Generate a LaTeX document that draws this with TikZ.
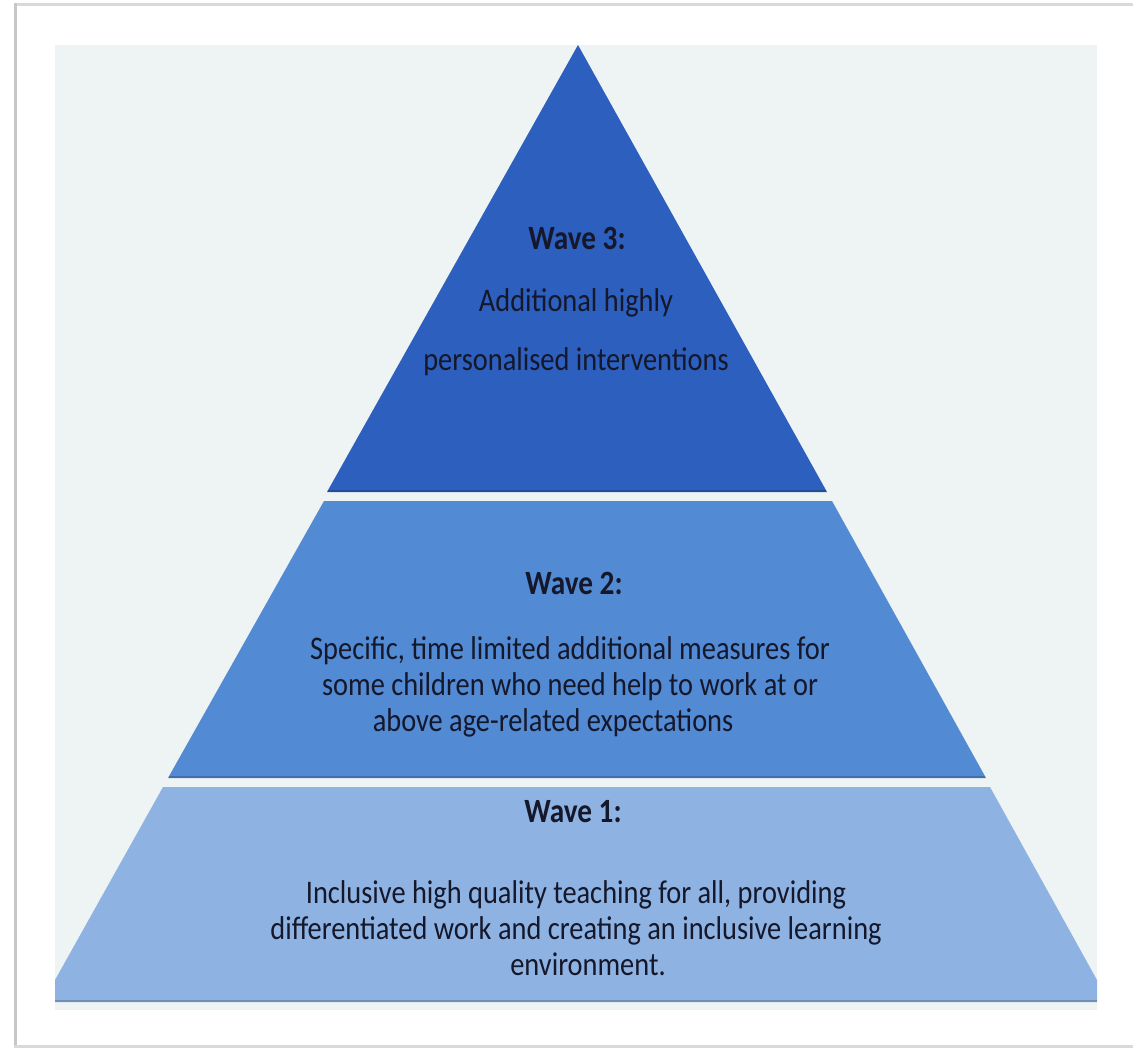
\documentclass[tikz,border=0pt]{standalone}
\usepackage{fontspec}
\setmainfont{Carlito}[FakeStretch=0.86]
\definecolor{bgpanel}{HTML}{EEF3F4}
\definecolor{wavethree}{HTML}{2C5FBE}
\definecolor{wavetwo}{HTML}{528AD4}
\definecolor{waveone}{HTML}{8EB3E2}
\definecolor{wavetext}{HTML}{15172A}
\tikzset{
  wavehead/.style={anchor=base, inner sep=0pt, text=wavetext, font=\bfseries\fontsize{34}{34}\selectfont},
  wavebody/.style={anchor=base, inner sep=0pt, align=center, text=wavetext, font=\fontsize{33}{36}\selectfont},
}
\begin{document}
\begin{tikzpicture}[x=1pt,y=-1pt]
		\useasboundingbox (0,0) rectangle (1133,1048);
		% card with its shadow
		\fill[white] (0,0) rectangle (1133,1048);
		\fill[black!15] (14,3) rectangle (1133,6);
		\fill[black!22] (14,3) rectangle (17,1048);
		\fill[black!15] (14,1045) rectangle (1133,1048);
		\fill[white] (17,6) rectangle (1133,1045);
		\fill[bgpanel] (55,45) rectangle (1097,1010);
		
		% tiers
		\fill[wavethree] (578,45) -- (827,492) -- (327,492) -- cycle;
		\draw[wavethree!80!black, line width=1.5pt] (328,491) -- (826,491);
		\fill[wavetwo] (324,501) -- (832,501) -- (986,778) -- (168,778) -- cycle;
		\draw[wavetwo!80!black, line width=1.5pt] (169,777) -- (985,777);
		\fill[waveone] (163,787) -- (990,787) -- (1097,980) -- (1097,1002) -- (55,1002) -- (55,980) -- cycle;
		\draw[waveone!80!black, line width=1.5pt] (55,1001) -- (1097,1001);
		
		% wave 3 (base = last line)
		\node[wavehead] (w3head) at (577,250) {Wave 3:};
		\node[wavebody, font=\fontsize{33}{59}\selectfont] (w3body) at (576,371)
			{Additional highly\\personalised interventions};
		
		% wave 2
		\node[wavehead] (w2head) at (574,594) {Wave 2:};
		\node[wavebody] (w2body) at (570,731)
			{Specific, time limited additional measures for\\some children who need help to work at or\\above age-related expectations\hspace*{34pt}};
		
		% wave 1
		\node[wavehead] (w1head) at (573,822) {Wave 1:};
		\node[wavebody] (w1body) at (576,975)
			{Inclusive high quality teaching for all, providing\\differentiated work and creating an inclusive learning\\\hspace*{24pt}environment.};
\end{tikzpicture}
\end{document}
